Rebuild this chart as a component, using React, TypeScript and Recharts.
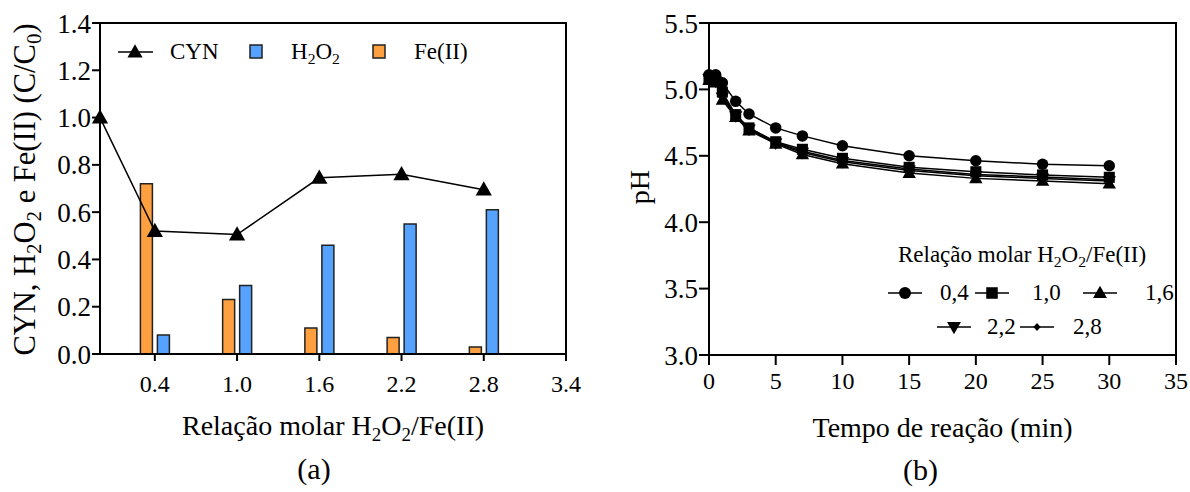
import React from "react";
import {
  Bar,
  ComposedChart,
  Label,
  Legend,
  Line,
  ReferenceArea,
  XAxis,
  YAxis,
} from "recharts";

const FONT = "'Liberation Serif', 'Times New Roman', serif";

// (a) residual fraction vs H2O2/Fe(II) molar ratio
const ratios = [0.4, 1.0, 1.6, 2.2, 2.8];
const feValues = [0.72, 0.23, 0.11, 0.07, 0.03];
const h2o2Values = [0.08, 0.29, 0.46, 0.55, 0.61];
const cynRatios = [0, 0.4, 1.0, 1.6, 2.2, 2.8];
const cynValues = [1.0, 0.52, 0.505, 0.745, 0.76, 0.695];
const ratioTicks = [0.4, 1.0, 1.6, 2.2, 2.8, 3.4];
const fracTicks = [0, 0.2, 0.4, 0.6, 0.8, 1.0, 1.2, 1.4];

// (b) pH vs reaction time
const times = [0, 0.5, 1, 2, 3, 5, 7, 10, 15, 20, 25, 30];
const ph04 = [5.11, 5.11, 5.05, 4.91, 4.815, 4.71, 4.65, 4.576, 4.5, 4.463, 4.436, 4.425];
const ph10 = [5.08, 5.07, 4.98, 4.81, 4.71, 4.606, 4.549, 4.481, 4.413, 4.38, 4.356, 4.338];
const ph16 = [5.07, 5.05, 4.92, 4.79, 4.69, 4.59, 4.51, 4.44, 4.37, 4.33, 4.31, 4.29];
const ph22 = [5.08, 5.06, 4.94, 4.8, 4.7, 4.595, 4.525, 4.455, 4.39, 4.35, 4.33, 4.31];
const ph28 = [5.09, 5.07, 4.96, 4.8, 4.71, 4.6, 4.535, 4.465, 4.4, 4.36, 4.34, 4.32];
const phSeries = ["0,4", "1,0", "1,6", "2,2", "2,8"];
const timeTicks = [0, 5, 10, 15, 20, 25, 30, 35];
const phTicks = [3.0, 3.5, 4.0, 4.5, 5.0, 5.5];

const barRows = ratios.map((r, i) => ({ ratio: r, fe: feValues[i], h2o2: h2o2Values[i] }));
const cynRows = cynRatios.map((r, i) => ({ ratio: r, cyn: cynValues[i] }));
const phRows = times.map((t, i) => ({
  t,
  s0: ph04[i],
  s1: ph10[i],
  s2: ph16[i],
  s3: ph22[i],
  s4: ph28[i],
}));

const ORANGE = "#FFA040";
const BLUE = "#56A2FF";

const axisStyle = { stroke: "#000", strokeWidth: 2 };
const xTick = { fill: "#000", fontSize: 24, fontFamily: FONT };
const yTick = { fill: "#000", fontSize: 27, fontFamily: FONT };

type Shape = "circle" | "square" | "up" | "down" | "diamond";
const shapes: Shape[] = ["circle", "square", "up", "down", "diamond"];

function marker(shape: Shape, cx: number, cy: number, s: number, key?: any) {
  if (shape === "circle") return <circle key={key} cx={cx} cy={cy} r={s * 0.5} fill="#000" />;
  if (shape === "square")
    return <rect key={key} x={cx - s * 0.48} y={cy - s * 0.48} width={s * 0.96} height={s * 0.96} fill="#000" />;
  if (shape === "up")
    return (
      <polygon
        key={key}
        points={`${cx},${cy - s * 0.6} ${cx - s * 0.58},${cy + s * 0.42} ${cx + s * 0.58},${cy + s * 0.42}`}
        fill="#000"
      />
    );
  if (shape === "down")
    return (
      <polygon
        key={key}
        points={`${cx},${cy + s * 0.6} ${cx - s * 0.58},${cy - s * 0.42} ${cx + s * 0.58},${cy - s * 0.42}`}
        fill="#000"
      />
    );
  return (
    <polygon
      key={key}
      points={`${cx},${cy - s * 0.45} ${cx + s * 0.4},${cy} ${cx},${cy + s * 0.45} ${cx - s * 0.4},${cy}`}
      fill="#000"
    />
  );
}

const dotFor = (shape: Shape, size: number) => (p: any) =>
  marker(shape, p.cx, p.cy, size, `${shape}-${p.index}`);

const Sub = ({ children }: { children: React.ReactNode }) => (
  <sub style={{ fontSize: "0.68em", verticalAlign: "-0.3em", lineHeight: 0 }}>{children}</sub>
);

const LegendA = () => (
  <div style={{ position: "relative", width: 600, height: 80, fontFamily: FONT, fontSize: 23, color: "#000" }}>
    <svg style={{ position: "absolute", left: 117, top: 44 }} width={38} height={16}>
      <line x1={1} y1={8} x2={36} y2={8} stroke="#000" strokeWidth={1.5} />
      {marker("up", 18, 8, 13)}
    </svg>
    <span style={{ position: "absolute", left: 170, top: 37, lineHeight: "30px" }}>CYN</span>
    <svg style={{ position: "absolute", left: 249, top: 44 }} width={16} height={16}>
      <rect x={1} y={1} width={12} height={13} fill={BLUE} stroke="#222" strokeWidth={1.5} />
    </svg>
    <span style={{ position: "absolute", left: 291, top: 37, lineHeight: "30px" }}>
      H<Sub>2</Sub>O<Sub>2</Sub>
    </span>
    <svg style={{ position: "absolute", left: 372, top: 44 }} width={16} height={16}>
      <rect x={1} y={1} width={12} height={13} fill={ORANGE} stroke="#222" strokeWidth={1.5} />
    </svg>
    <span style={{ position: "absolute", left: 414, top: 37, lineHeight: "30px" }}>Fe(II)</span>
  </div>
);

const legendBPos = [
  { line: 288, text: 340, y: 293 },
  { line: 375, text: 432, y: 293 },
  { line: 483, text: 545, y: 293 },
  { line: 337, text: 387, y: 327 },
  { line: 420, text: 473, y: 327 },
];

const LegendB = () => (
  <div style={{ position: "relative", width: 590, height: 492, fontFamily: FONT, fontSize: 23, color: "#000" }}>
    <div style={{ position: "absolute", left: 272, width: 300, top: 240, lineHeight: "30px", textAlign: "center" }}>
      Relação molar H<Sub>2</Sub>O<Sub>2</Sub>/Fe(II)
    </div>
    {phSeries.map((name, i) => (
      <React.Fragment key={name}>
        <svg style={{ position: "absolute", left: legendBPos[i].line, top: legendBPos[i].y - 8 }} width={36} height={16}>
          <line x1={0} y1={8} x2={34} y2={8} stroke="#000" strokeWidth={1.5} />
          {marker(shapes[i], 17, 8, i === 4 ? 9 : 12)}
        </svg>
        <span style={{ position: "absolute", left: legendBPos[i].text, top: legendBPos[i].y - 15, lineHeight: "30px" }}>
          {name}
        </span>
      </React.Fragment>
    ))}
  </div>
);

const titleText = { fill: "#000", fontFamily: FONT } as const;

const xTitleA = (p: any) => {
  const { x, y, width } = p.viewBox;
  return (
    <g>
      <text x={x + width / 2} y={y + 81} textAnchor="middle" fontSize={28} {...titleText}>
        Relação molar H
        <tspan dy={6} fontSize={19}>2</tspan>
        <tspan dy={-6}>O</tspan>
        <tspan dy={6} fontSize={19}>2</tspan>
        <tspan dy={-6}>/Fe(II)</tspan>
      </text>
      <text x={x + width / 2 - 19} y={y + 125} textAnchor="middle" fontSize={30} {...titleText}>
        (a)
      </text>
    </g>
  );
};

const yTitleA = (p: any) => {
  const { y, height } = p.viewBox;
  const cx = 35;
  const cy = y + height / 2 + 1;
  return (
    <text x={cx} y={cy} transform={`rotate(-90, ${cx}, ${cy})`} textAnchor="middle" fontSize={30.5} {...titleText}>
      CYN, H
      <tspan dy={6} fontSize={21}>2</tspan>
      <tspan dy={-6}>O</tspan>
      <tspan dy={6} fontSize={21}>2</tspan>
      <tspan dy={-6}> e Fe(II) (C/C</tspan>
      <tspan dy={6} fontSize={21}>0</tspan>
      <tspan dy={-6}>)</tspan>
    </text>
  );
};

const xTitleB = (p: any) => {
  const { x, y, width } = p.viewBox;
  return (
    <g>
      <text x={x + width / 2} y={y + 82} textAnchor="middle" fontSize={28} {...titleText}>
        Tempo de reação (min)
      </text>
      <text x={x + width / 2 - 22} y={y + 125} textAnchor="middle" fontSize={30} {...titleText}>
        (b)
      </text>
    </g>
  );
};

const yTitleB = (p: any) => {
  const { y, height } = p.viewBox;
  const cx = 49;
  const cy = y + height / 2 - 2;
  return (
    <text x={cx} y={cy} transform={`rotate(-90, ${cx}, ${cy})`} textAnchor="middle" fontSize={28} {...titleText}>
      pH
    </text>
  );
};

function PanelA() {
  return (
    <ComposedChart width={600} height={492} data={barRows} margin={{ top: 23, right: 34, left: 40, bottom: 98 }} barGap={5}>
      <ReferenceArea x1={0} x2={3.4} y1={0} y2={1.4} fill="none" stroke="#000" strokeWidth={2} ifOverflow="visible" />
      <XAxis
        type="number"
        dataKey="ratio"
        domain={[0, 3.4]}
        ticks={ratioTicks}
        interval={0}
        tickFormatter={(v: number) => v.toFixed(1)}
        tick={xTick}
        axisLine={axisStyle}
        tickLine={axisStyle}
        tickSize={7}
        tickMargin={14}
        height={40}
      >
        <Label content={xTitleA} />
      </XAxis>
      <YAxis
        type="number"
        domain={[0, 1.4]}
        ticks={fracTicks}
        interval={0}
        tickFormatter={(v: number) => v.toFixed(1)}
        tick={yTick}
        axisLine={axisStyle}
        tickLine={axisStyle}
        tickSize={8}
        tickMargin={1}
        width={60}
      >
        <Label content={yTitleA} />
      </YAxis>
      <Bar dataKey="fe" name="Fe(II)" fill={ORANGE} stroke="#222" strokeWidth={1.5} barSize={12} isAnimationActive={false} />
      <Bar dataKey="h2o2" name="H2O2" fill={BLUE} stroke="#222" strokeWidth={1.5} barSize={12} isAnimationActive={false} />
      <Line
        data={cynRows}
        dataKey="cyn"
        name="CYN"
        stroke="#000"
        strokeWidth={1.5}
        dot={dotFor("up", 14)}
        isAnimationActive={false}
      />
      <Legend
        layout="horizontal"
        verticalAlign="middle"
        align="center"
        content={() => <LegendA />}
        wrapperStyle={{ left: 0, top: 0, width: 600, height: 80 }}
      />
    </ComposedChart>
  );
}

function PanelB() {
  return (
    <ComposedChart width={590} height={492} data={phRows} margin={{ top: 23, right: 14, left: 49, bottom: 97 }}>
      <ReferenceArea x1={0} x2={35} y1={3} y2={5.5} fill="none" stroke="#000" strokeWidth={2} ifOverflow="visible" />
      <XAxis
        type="number"
        dataKey="t"
        domain={[0, 35]}
        ticks={timeTicks}
        interval={0}
        tick={xTick}
        axisLine={axisStyle}
        tickLine={axisStyle}
        tickSize={10}
        tickMargin={7}
        height={40}
      >
        <Label content={xTitleB} />
      </XAxis>
      <YAxis
        type="number"
        domain={[3, 5.5]}
        ticks={phTicks}
        interval={0}
        tickFormatter={(v: number) => v.toFixed(1)}
        tick={yTick}
        axisLine={axisStyle}
        tickLine={axisStyle}
        tickSize={10}
        tickMargin={1}
        width={60}
      >
        <Label content={yTitleB} />
      </YAxis>
      {["s4", "s3", "s2", "s1", "s0"].map((k) => {
        const i = Number(k.slice(1));
        return (
          <Line
            key={k}
            dataKey={k}
            name={phSeries[i]}
            stroke="#000"
            strokeWidth={1.5}
            dot={dotFor(shapes[i], i === 4 ? 9 : 11.5)}
            isAnimationActive={false}
          />
        );
      })}
      <Legend
        layout="horizontal"
        verticalAlign="middle"
        align="center"
        content={() => <LegendB />}
        wrapperStyle={{ left: 0, top: 0, width: 590, height: 492, pointerEvents: "none" }}
      />
    </ComposedChart>
  );
}

export default function App() {
  return (
    <div style={{ position: "absolute", left: 0, top: 0, width: 1190, height: 492, background: "#fff" }}>
      <div style={{ position: "absolute", left: 0, top: 0 }}>
        <PanelA />
      </div>
      <div style={{ position: "absolute", left: 600, top: 0 }}>
        <PanelB />
      </div>
    </div>
  );
}
